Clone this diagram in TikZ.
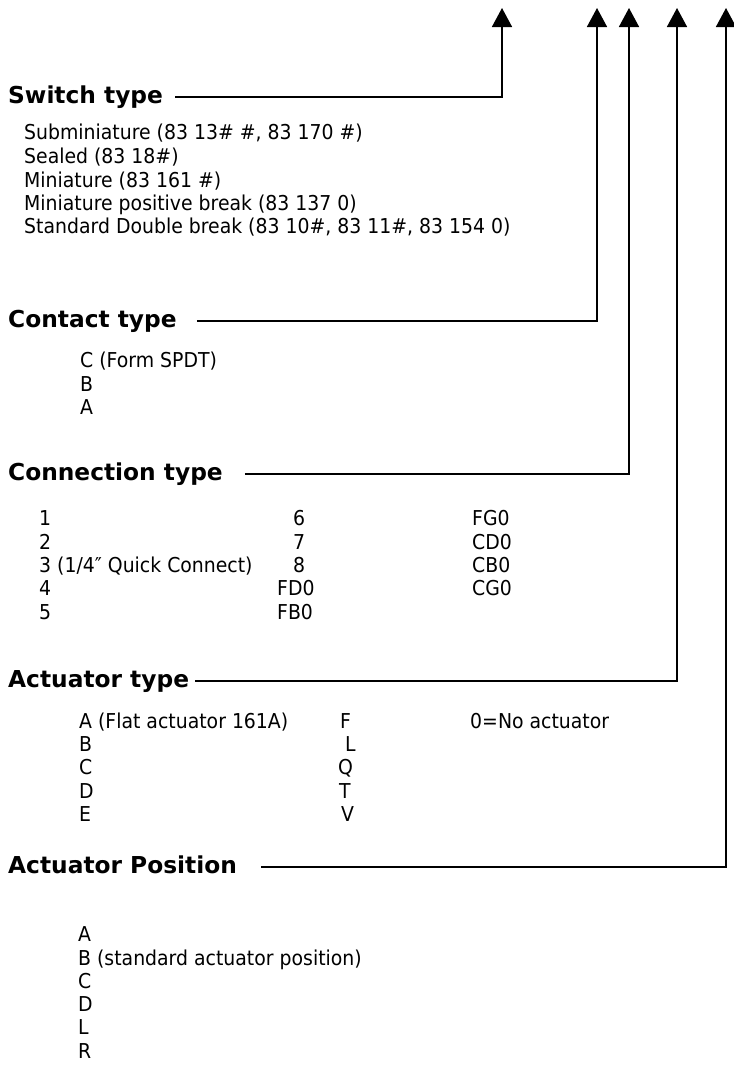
\documentclass[tikz,border=0pt]{standalone}
\usepackage{fontspec}
\setmainfont{DejaVu Sans}[FakeStretch=0.92]
\newfontfamily\titlefont{DejaVu Sans}
\usetikzlibrary{arrows.meta,positioning}
\tikzset{
    titulo/.style={anchor=base west,inner sep=0pt,font=\titlefont\bfseries\fontsize{23.3}{26}\selectfont},
    opcion/.style={anchor=base west,inner sep=0pt,font=\fontsize{20.5}{23}\selectfont},
    guia/.style={draw,line width=1.6pt,line join=miter,-{Triangle[width=20pt,length=19pt]}},
}

\begin{document}
\begin{tikzpicture}[x=1pt,y=-1pt]
    \useasboundingbox [fill=white] (0,0) rectangle (734,1088);

    % arrow tips
    \coordinate (t1) at (502,8);
    \coordinate (t2) at (597,8);
    \coordinate (t3) at (629,8);
    \coordinate (t4) at (677,8);
    \coordinate (t5) at (726,8);

    % switch type
    \node [titulo] (sw) at (8,103) {Switch type};
    \node [opcion] (sw1) at (24,139) {Subminiature (83 13\# \#, 83 170 \#)};
    \node [opcion] (sw2) at (24,163) {Sealed (83 18\#)};
    \node [opcion] (sw3) at (24,187) {Miniature (83 161 \#)};
    \node [opcion] (sw4) at (24,210) {Miniature positive break (83 137 0)};
    \node [opcion] (sw5) at (24,233) {Standard Double break (83 10\#, 83 11\#, 83 154 0)};
    \path [guia] ([shift={(12pt,6pt)}]sw.base east) -| (t1);

    % contact type
    \node [titulo] (ct) at (8,327) {Contact type};
    \node [opcion] (ct1) at (80,367) {C (Form SPDT)};
    \node [opcion] (ct2) at (80,391) {B};
    \node [opcion] (ct3) at (80,414) {A};
    \path [guia] ([shift={(20pt,6pt)}]ct.base east) -| (t2);

    % connection type
    \node [titulo] (cn) at (8,480) {Connection type};
    \node [opcion] (cn1) at (39,525) {1};
    \node [opcion] (cn2) at (39,549) {2};
    \node [opcion] (cn3) at (39,572) {3 (1/4″ Quick Connect)};
    \node [opcion] (cn4) at (39,595) {4};
    \node [opcion] (cn5) at (39,619) {5};
    \node [opcion] (cn6) at (293,525) {6};
    \node [opcion] (cn7) at (293,549) {7};
    \node [opcion] (cn8) at (293,572) {8};
    \node [opcion] (cn9) at (277,595) {FD0};
    \node [opcion] (cn10) at (277,619) {FB0};
    \node [opcion] (cn11) at (472,525) {FG0};
    \node [opcion] (cn12) at (472,549) {CD0};
    \node [opcion] (cn13) at (472,572) {CB0};
    \node [opcion] (cn14) at (472,595) {CG0};
    \path [guia] ([shift={(22pt,6pt)}]cn.base east) -| (t3);

    % actuator type
    \node [titulo] (at) at (8,687) {Actuator type};
    \node [opcion] (at1) at (79,728) {A (Flat actuator 161A)};
    \node [opcion] (at2) at (79,751) {B};
    \node [opcion] (at3) at (79,774) {C};
    \node [opcion] (at4) at (79,798) {D};
    \node [opcion] (at5) at (79,821) {E};
    \node [opcion] (at6) at (340,728) {F};
    \node [opcion] (at7) at (345,751) {L};
    \node [opcion] (at8) at (338,774) {Q};
    \node [opcion] (at9) at (339,798) {T};
    \node [opcion] (at10) at (341,821) {V};
    \node [opcion] (at11) at (470,728) {0=No actuator};
    \path [guia] ([shift={(6pt,6pt)}]at.base east) -| (t4);

    % actuator position
    \node [titulo] (ap) at (8,873) {Actuator Position};
    \node [opcion] (ap1) at (78,941) {A};
    \node [opcion] (ap2) at (78,965) {B (standard actuator position)};
    \node [opcion] (ap3) at (78,988) {C};
    \node [opcion] (ap4) at (78,1011) {D};
    \node [opcion] (ap5) at (78,1034) {L};
    \node [opcion] (ap6) at (78,1058) {R};
    \path [guia] ([shift={(24pt,6pt)}]ap.base east) -| (t5);
\end{tikzpicture}
\end{document}
